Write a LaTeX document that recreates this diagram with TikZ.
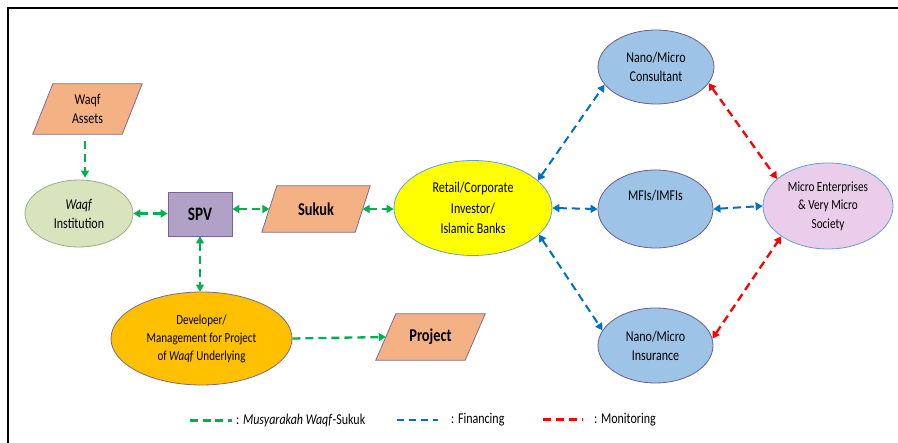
\documentclass[tikz,border=0pt]{standalone}
\usepackage{fontspec}
\setmainfont{Carlito}[FakeStretch=0.8]
\usetikzlibrary{shapes.geometric,arrows.meta,backgrounds}

\definecolor{parafill}{HTML}{F4B183}
\definecolor{paraedge}{HTML}{7E6B8F}
\definecolor{wifill}{HTML}{D7E4BD}
\definecolor{wiedge}{HTML}{9BAF7E}
\definecolor{spvfill}{HTML}{B2A1C7}
\definecolor{spvedge}{HTML}{7B5F9E}
\definecolor{rbfill}{HTML}{FFFF00}
\definecolor{softblue}{HTML}{6A9BD0}
\definecolor{bluefill}{HTML}{9DC3E6}
\definecolor{blueedge}{HTML}{6B5E8E}
\definecolor{mefill}{HTML}{EACDEA}
\definecolor{devfill}{HTML}{FFC000}
\definecolor{devedge}{HTML}{7F6A80}
\definecolor{lkgreen}{HTML}{00B050}
\definecolor{lkblue}{HTML}{0070C0}
\definecolor{lkred}{HTML}{FF0000}

% parallelogram around a node: #1 = node name, #2 = half of the slant
\newcommand{\slantbox}[2]{%
  \begin{scope}[on background layer]
    \draw[fill=parafill, draw=paraedge, line width=0.8pt]
      ([xshift=#2]#1.north west) -- ([xshift=#2]#1.north east)
      -- ([xshift=-#2]#1.south east) -- ([xshift=-#2]#1.south west) -- cycle;
  \end{scope}}

\begin{document}
\begin{tikzpicture}[x=1pt,y=-1pt,
  txt/.style={font=\fontsize{15}{19}\selectfont, align=center, text=black},
  smalltxt/.style={font=\fontsize{13.8}{18}\selectfont, align=center, text=black},
  boldtxt/.style={font=\fontsize{18}{22}\selectfont\bfseries, text=black},
  parabody/.style={rectangle, inner sep=0pt},
  oval/.style={ellipse, inner sep=0pt, line width=0.8pt},
  glink/.style={draw=lkgreen, line width=2.3pt, dash pattern=on 8pt off 5pt},
  blink/.style={draw=lkblue, line width=2pt, dash pattern=on 8pt off 5pt},
  rlink/.style={draw=lkred, line width=2.3pt, dash pattern=on 8pt off 5pt},
  both/.style={{Triangle[length=7pt,width=8pt]}-{Triangle[length=7pt,width=8pt]}},
  one/.style={-{Triangle[length=7pt,width=8pt]}}
]
\useasboundingbox (0,0) rectangle (898,443);

% frame
\draw[line width=2pt] (7,8) -- (898,8);
\draw[line width=2pt] (8,8) -- (8,443);

% left group
\node[parabody, minimum width=89pt, minimum height=50pt, txt] (wa) at (87.5,109) {Waqf\\Assets};
\slantbox{wa}{10pt}
\node[oval, fill=wifill, draw=wiedge, minimum width=108pt, minimum height=67pt, txt]
  (wi) at (79,213.5) {\textit{Waqf}\\Institution};
\node[rectangle, fill=spvfill, draw=spvedge, line width=0.8pt,
  minimum width=64pt, minimum height=44pt, boldtxt, font=\fontsize{19}{22}\selectfont\bfseries]
  (spv) at (200,214) {SPV};
\node[parabody, minimum width=93pt, minimum height=46pt, boldtxt] (sk) at (316,209) {Sukuk};
\slantbox{sk}{7.5pt}
\node[oval, fill=devfill, draw=devedge, minimum width=181pt, minimum height=93pt, smalltxt]
  (dev) at (201.5,338.5) {Developer/\\Management for Project\\of \textit{Waqf} Underlying};
\node[parabody, minimum width=89pt, minimum height=46pt, boldtxt] (pj) at (430.5,337) {Project};
\slantbox{pj}{10pt}

% investors and channels
\node[oval, fill=rbfill, draw=softblue, minimum width=158pt, minimum height=95pt,
  txt, font=\fontsize{15}{20.5}\selectfont]
  (rb) at (473,208) {Retail/Corporate\\Investor/\\Islamic Banks};
\node[oval, fill=bluefill, draw=blueedge, minimum width=116pt, minimum height=74pt, txt]
  (nc) at (656,67) {Nano/Micro\\Consultant};
\node[oval, fill=bluefill, draw=blueedge, minimum width=115pt, minimum height=78pt, txt]
  (mf) at (655.5,209) {MFIs/IMFIs\\[8pt]};
\node[oval, fill=bluefill, draw=blueedge, minimum width=115pt, minimum height=75pt, txt]
  (ni) at (655.5,345.5) {Nano/Micro\\Insurance};
\node[oval, fill=mefill, draw=softblue, minimum width=130pt, minimum height=86pt, smalltxt,
  font=\fontsize{14}{18.5}\selectfont]
  (me) at (828,206) {Micro Enterprises\\\& Very Micro\\Society};

% Musyarakah Waqf-Sukuk flows
\draw[glink, one, shorten <=7pt, shorten >=2pt]
  ([xshift=-2.5pt]wa.south) -- ([xshift=6pt]wi.north);
\draw[glink, both] (wi.east) -- (spv.west |- wi.east);
\draw[glink, both] (spv.east |- sk.west) -- (sk.west);
\draw[glink, both] (sk.east) -- (rb.west |- sk.east);
\draw[glink, both] (spv.south) -- (spv.south |- dev.north);
\draw[glink, one] (dev.east) -- (pj.west);

% financing flows
\draw[blink, both] (rb.23) -- (nc.199);
\draw[blink, both] (rb.east) -- (mf.west);
\draw[blink, both] (rb.-22) -- (ni.164);
\draw[blink, both] (mf.east) -- (me.west);

% monitoring flows
\draw[rlink, both] (nc.-17) -- (me.152);
\draw[rlink, both] (ni.7) -- (me.213);

% legend
\coordinate (g1) at (190,421); \coordinate (g2) at (232,421);
\coordinate (b1) at (397,420); \coordinate (b2) at (438,420);
\coordinate (r1) at (543,420); \coordinate (r2) at (583,420);
\draw[draw=lkgreen, line width=3pt, dash pattern=on 8pt off 4.5pt] (g1) -- (g2);
\draw[draw=lkblue, line width=2pt, dash pattern=on 7pt off 5pt] (b1) -- (b2);
\draw[draw=lkred, line width=3pt, dash pattern=on 8pt off 5pt] (r1) -- (r2);
\node[txt, anchor=west, inner sep=0pt] (lg) at (236,421) {: \textit{Musyarakah Waqf}-Sukuk};
\node[txt, anchor=west, inner sep=0pt] (lb) at (451,420) {: Financing};
\node[txt, anchor=west, inner sep=0pt] (lr) at (594,420) {: Monitoring};
\end{tikzpicture}
\end{document}
